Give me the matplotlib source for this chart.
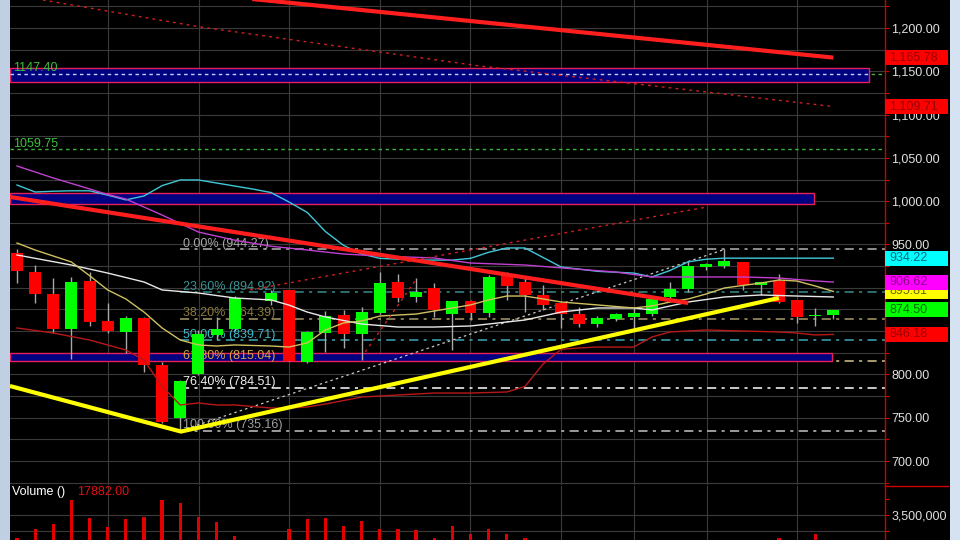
import matplotlib
matplotlib.use('Agg')
import matplotlib.pyplot as plt
from matplotlib.patches import Rectangle
from matplotlib.lines import Line2D
from matplotlib.transforms import offset_copy
import numpy as np

plt.rcParams['font.family'] = ['Liberation Sans', 'DejaVu Sans']

W, H = 960, 540

# ---------------- data ----------------
bar_idx = [0, 1, 2, 3, 4, 5, 6, 7, 8, 9, 10, 11, 12, 14, 15, 16, 17, 18, 19, 20, 21, 22, 23,
           24, 25, 26, 27, 28, 29, 30, 31, 32, 33, 34, 35, 36, 37, 38, 39, 40, 41, 42, 43, 44, 45]
opens = [940, 918, 893, 852, 908, 862, 849, 865, 811, 750, 800, 845, 852, 885, 897, 814, 848, 868.6,
         847, 871, 906.7, 889.4, 899.8, 869.7, 884.8, 870.9, 916, 906.7, 891.7, 882.5, 869.7, 858.2,
         864, 866.3, 869.7, 889.4, 898.7, 924, 925.2, 929.8, 903.2, 907.8, 885.9, 867.2, 868.6]
highs = [945, 926, 911, 912, 918, 882, 868, 866, 814, 793, 851, 866, 890, 897, 898, 850, 873, 874,
         878, 918, 916, 911, 905.5, 885, 886, 914.8, 918, 911, 903.2, 884, 877.8, 867, 871, 877,
         889.4, 906.7, 931, 929, 944.27, 930, 906.7, 916, 886, 876.7, 874.5]
lows = [905, 882, 848, 818, 856, 848, 825, 803, 744, 735.16, 799, 840, 850, 880, 815, 813, 826, 830,
        817, 870, 883.6, 883.6, 866.3, 828.2, 862.8, 866.3, 885.9, 872, 874.4, 853.6, 854.7, 855,
        862, 853.6, 868, 887, 895, 921, 922.9, 897.5, 891.7, 883, 859.4, 855.9, 864]
closes = [919, 893, 852, 907, 860, 850, 865, 811, 745, 792, 847, 852, 888, 894, 815.5, 849, 867, 847,
          872, 905.5, 888.2, 895.2, 874.4, 884.8, 870.9, 912.5, 902.1, 891.7, 880, 869.7, 858.2,
          865.1, 869.7, 870.9, 887, 898.7, 925.2, 927.5, 931, 903.2, 906.7, 883.6, 866.3, 867.6, 874.5]
volumes = [3.14, 3.28, 3.36, 3.73, 3.45, 3.31, 3.44, 3.47, 3.73, 3.69, 3.47, 3.39, 3.17, 3.02, 3.28,
           3.44, 3.45, 3.33, 3.41, 3.28, 3.28, 3.27, 3.14, 3.33, 3.20, 3.28, 3.20, 3.14, 3.05, 3.02,
           3.00, 2.95, 2.90, 3.02, 3.05, 3.00, 3.08, 2.95, 3.00, 3.05, 2.90, 3.14, 3.05, 3.20, 0.017882]
last_volume = 17882.00

cyan_idx = [0, 1, 2, 3, 4, 5, 6, 7, 8, 9, 10, 11, 12, 13, 14, 15, 16, 17, 18, 19, 20,
            22, 24, 25, 26, 27, 28, 29, 30, 32, 34, 35, 36, 37, 38, 39, 45]
cyan_val = [1018.7, 1010.6, 1011.5, 1012, 1012, 1007, 1001.5, 1006, 1018, 1024.5, 1024.5, 1021,
            1017.5, 1014, 1010, 999, 987, 965, 949, 939, 934,
            932, 932, 934, 941, 946, 946, 935, 924, 919, 917, 912.5, 920, 930, 933, 934.22, 934.22]

magenta_idx = [0, 2, 5, 6, 8, 10, 12, 14, 16, 18, 20, 23, 25, 28, 30, 33, 35, 37, 40, 42, 44, 45]
magenta_val = [1040.6, 1026.8, 1007.8, 1002.5, 984, 964.4, 955, 948, 943.6, 939, 936.7, 934.4,
               928.6, 926.3, 923, 918.2, 912.5, 912.5, 912.5, 911.3, 907.9, 906.62]

white_idx = [0, 3, 5, 7, 8, 10, 12, 14, 15, 16, 17, 19, 21, 23, 25, 28, 30, 32, 34, 35,
             36, 37, 39, 41, 43, 45]
white_val = [937.9, 926.3, 917, 906.7, 897.5, 894, 888.2, 886, 880, 872, 866.3, 858.2, 854.7, 854.7,
             855.9, 862.8, 872, 876.7, 876.7, 874.4, 879, 883.6, 889.4, 891.7, 890.5, 889.4]

yellow_idx = [0, 1, 3, 4, 5, 6, 7, 8, 9, 10, 11, 12, 14, 15, 16, 17, 18, 19, 20, 22,
              24, 25, 26, 27, 28, 29, 30, 32, 34, 35, 36, 37, 38, 39, 41, 42, 43, 44, 45]
yellow_val = [951.7, 943.6, 929.8, 914, 897.5, 887.1, 872, 853.6, 839.7, 834, 832.8, 834, 832.8,
              831.6, 836.3, 851.3, 859.4, 861.7, 867.4, 869.7, 876.7, 880.2, 886, 890.5, 890.5,
              887.1, 883.6, 880.2, 876.7, 879, 883.6, 887.1, 892.9, 899.8, 905.5, 909, 907.8,
              902.1, 895.81]

lowband_idx = [0, 2, 4, 6, 7, 8, 9, 10, 11, 12, 14, 15, 16, 17, 19, 21, 23, 25, 27, 28,
               29, 30, 31, 32, 34, 35, 36, 38, 40, 42, 43, 44, 45]
lowband_val = [853.6, 847.8, 839.7, 828.2, 816.6, 786, 764.7, 767, 764.7, 764.7, 761.2, 761.2,
               762.4, 765.8, 773.9, 776.2, 778.5, 778.5, 779.7, 786, 812, 829, 830.5, 831.6, 831.6,
               843.2, 849, 851.3, 850.1, 849, 847.8, 845.5, 846.18]

# Fibonacci retracement
fib_pcts = ['0.00%', '23.60%', '38.20%', '50.00%', '61.80%', '76.40%', '100.00%']
fib_vals = [944.27, 894.92, 864.39, 839.71, 815.04, 784.51, 735.16]
fib_line_colors = ['#b4b4b4', '#3a8c8c', '#a89c6c', '#3ea8b8', '#d4c48c', '#ffffff', '#c4c4c4']
fib_text_colors = ['#a8a8a8', '#3a9494', '#8c7c3c', '#40b8c8', '#d4a444', '#f0f0f0', '#a0a0a0']
fib_start = 9.0

# zones
band_low = [1137.6, 996.8, 815.5]
band_high = [1153.8, 1009.5, 824.7]
band_end = [46.97, 43.94, 44.93]

# horizontal levels
level_vals = [1147.40, 1059.75]

# trend lines
red_top_x, red_top_y = [12.0, 45.0], [1235.5, 1165.78]
red_mid_x, red_mid_y = [-0.39, 37.0], [1004.9, 882.5]
yellow_tl_x, yellow_tl_y = [-0.39, 9.04, 42.0], [786.6, 734.0, 888.2]
red_dot_top_x, red_dot_top_y = [1.43, 10.09, 25.52, 44.82], [1232.3, 1201.2, 1156.1, 1109.71]
red_dot_up_x, red_dot_up_y = [12.85, 38.04], [897.5, 993.3]
red_dot_steep_x, red_dot_steep_y = [19.2, 22.05], [826.0, 911.3]
fib_diag_x, fib_diag_y = [9.04, 39.0], [735.16, 944.27]

# right axis value boxes
box_vals = [1165.78, 1109.71, 934.22, 895.81, 906.62, 874.50, 846.18]
box_face = ['#ff0000', '#ff0000', '#00ffff', '#ffff00', '#ff00ff', '#00ff00', '#ff0000']
box_text = ['#9a0000', '#9a0000', '#006a80', '#6a6a00', '#8a008a', '#006a00', '#9a0000']

grid_x = [5.02, 10.03, 15.0, 20.0, 24.97, 29.99, 34.01, 38.04, 43.0]
price_ticks = np.arange(700, 1201, 50)
price_minor = np.arange(675, 1226, 25)

# ---------------- layout ----------------
fig = plt.figure(figsize=(W / 100, H / 100), dpi=100, facecolor='black')
L, R = 10, 885
top_p, bot_p = 0, 485
top_v, bot_v = 486, 540
ax = fig.add_axes([L / W, 1 - bot_p / H, (R - L) / W, (bot_p - top_p) / H], facecolor='black')
axv = fig.add_axes([L / W, 1 - bot_v / H, (R - L) / W, (bot_v - top_v) / H], facecolor='black')

xl = (-0.386, 47.85)
ax.set_xlim(*xl)
ax.set_ylim(672.3, 1232.3)
axv.set_xlim(*xl)
axv.set_ylim(3.109e6, 3.953e6)

grid_c = '#3a3a3a'
for a in (ax, axv):
    for s in ('top', 'bottom', 'left'):
        a.spines[s].set_visible(False)
    a.spines['right'].set_color('#cc0000')
    a.spines['right'].set_linewidth(1.0)
    a.set_xticks(grid_x)
    a.tick_params(axis='x', length=0, labelbottom=False)
    a.grid(axis='x', color=grid_c, lw=0.8)
    a.set_axisbelow(True)
    a.yaxis.tick_right()

ax.set_yticks(price_ticks)
ax.set_yticklabels([f'{v:,.2f}' for v in price_ticks])
ax.set_yticks(price_minor, minor=True)
ax.tick_params(axis='y', which='both', colors='#cc0000', labelcolor='#e0e0e0',
               labelsize=9, length=3, width=0.8, pad=1.5)
ax.grid(axis='y', which='both', color=grid_c, lw=0.8)

axv.set_yticks([3.5e6])
axv.set_yticklabels(['3,500,000'])
axv.set_yticks([3.25e6, 3.75e6], minor=True)
axv.tick_params(axis='y', which='both', colors='#cc0000', labelcolor='#e0e0e0',
                labelsize=9, length=3, width=0.8, pad=1.5)
axv.grid(axis='y', which='major', color=grid_c, lw=0.8)
axv.axhline(3.25e6, color=grid_c, lw=0.8, zorder=0)

# ---------------- horizontal levels & zones ----------------
ax.hlines(level_vals, xl[0], xl[1], colors='#3cb43c', linestyles=(0, (2.5, 2.5)), lw=1.0, zorder=1)
for lo, hi, end in zip(band_low, band_high, band_end):
    ax.add_patch(Rectangle((xl[0], lo), end - xl[0], hi - lo, facecolor='#000080',
                           edgecolor='#e8205a', lw=1.0, zorder=1.5))
ax.hlines(level_vals[0], xl[0], band_end[0], colors='#b8d8ff', linestyles=(0, (2.5, 2.5)),
          lw=1.0, zorder=1.6)
for v in level_vals:
    tr = offset_copy(ax.get_yaxis_transform(), fig=fig, x=0, y=2.5, units='dots')
    ax.text(0.003, v, f'{v:.2f}', transform=tr, color='#3cc03c', fontsize=9,
            va='baseline', ha='left', zorder=2)

# ---------------- fibonacci ----------------
for p, v, lc, tc in zip(fib_pcts, fib_vals, fib_line_colors, fib_text_colors):
    ax.hlines(v, fib_start, xl[1], colors=lc, linestyles=(0, (6, 3.5, 2, 3.5)), lw=1.1, zorder=1.2)
    tr = offset_copy(ax.transData, fig=fig, x=3, y=2.5, units='dots')
    ax.text(fib_start, v, f'{p} ({v:.2f})', transform=tr, color=tc, fontsize=9,
            va='baseline', ha='left', zorder=2)

ax.plot(fib_diag_x, fib_diag_y, color='#c8c8c8', lw=0.9, ls=(0, (2, 2.5)), zorder=2.6)

# ---------------- candles ----------------
bw = 0.66
for i, o, h, l, c in zip(bar_idx, opens, highs, lows, closes):
    ax.vlines(i, l, h, colors='#a8a8a8', lw=1.0, zorder=2.9)
    col = '#00ff00' if c >= o else '#ff0000'
    ax.add_patch(Rectangle((i - bw / 2, min(o, c)), bw, max(abs(c - o), 0.9),
                           facecolor=col, edgecolor='none', zorder=3))

# ---------------- indicators ----------------
ax.plot(cyan_idx, cyan_val, color='#40c8d8', lw=1.0, zorder=3.5)
ax.plot(magenta_idx, magenta_val, color='#c040d0', lw=1.0, zorder=3.5)
ax.plot(white_idx, white_val, color='#e8e8e8', lw=1.0, zorder=3.5)
ax.plot(yellow_idx, yellow_val, color='#d0c060', lw=1.0, zorder=3.5)
ax.plot(lowband_idx, lowband_val, color='#b81818', lw=1.0, zorder=3.5)

# ---------------- trend lines ----------------
ax.plot(red_dot_top_x, red_dot_top_y, color='#d02020', lw=1.0, ls=(0, (2, 3)), zorder=3.6)
ax.plot(red_dot_up_x, red_dot_up_y, color='#d02020', lw=1.0, ls=(0, (2, 3)), zorder=3.6)
ax.plot(red_dot_steep_x, red_dot_steep_y, color='#d02020', lw=1.0, ls=(0, (2, 3)), zorder=3.6)
ax.plot(red_top_x, red_top_y, color='#ff1e1e', lw=3.0, zorder=4, solid_capstyle='butt')
ax.plot(red_mid_x, red_mid_y, color='#ff1e1e', lw=3.0, zorder=4, solid_capstyle='butt')
ax.plot(yellow_tl_x, yellow_tl_y, color='#ffff00', lw=3.0, zorder=4, solid_capstyle='butt',
        solid_joinstyle='miter')

# ---------------- volume ----------------
axv.bar(bar_idx, [v * 1e6 for v in volumes], width=0.18, color='#e00000', zorder=2)
fig.text(12 / W, 1 - 492 / H, 'Volume ()', color='white', fontsize=9, va='center', ha='left')
fig.text(77 / W, 1 - 492 / H, f'{last_volume:.2f}', color='#e01010', fontsize=9,
         va='center', ha='left')

# ---------------- right axis value boxes ----------------
bw_ax = 63 / (R - L)
bh = 17.3
ytr = ax.get_yaxis_transform()
for k, (v, fc, tc) in enumerate(zip(box_vals, box_face, box_text)):
    ax.add_patch(Rectangle((1.0, v - bh / 2), bw_ax, bh, transform=ytr, facecolor=fc,
                           edgecolor='none', clip_on=False, zorder=10 + k))
    ax.text(1.0 + 4 / (R - L), v, f'{v:,.2f}', transform=ytr, color=tc, fontsize=9,
            va='center', ha='left', clip_on=False, zorder=10.5 + k)

# ---------------- frame decorations ----------------
fig.patches.append(Rectangle((0, 0), 10 / W, 1, transform=fig.transFigure,
                             facecolor='#c0cfe4', edgecolor='none', zorder=-1))
fig.patches.append(Rectangle((950 / W, 0), 10 / W, 1, transform=fig.transFigure,
                             facecolor='#d4e2f2', edgecolor='none', zorder=-1))
fig.lines.append(Line2D([R / W, 948 / W], [1 - 485.5 / H, 1 - 485.5 / H],
                        transform=fig.transFigure, color='#cc0000', lw=1.0))

fig.savefig('out.png', dpi=100, facecolor='black')
